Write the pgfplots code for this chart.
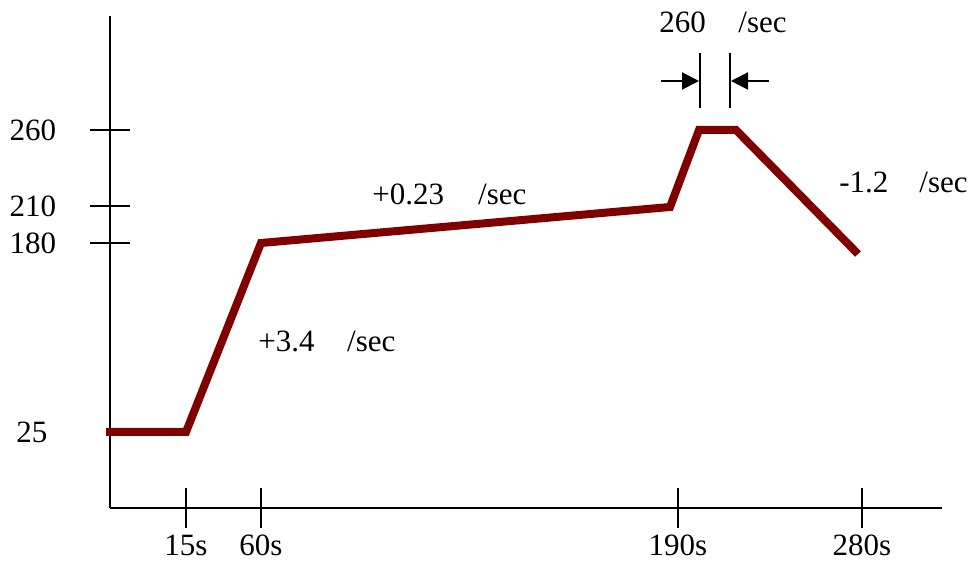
\documentclass[border=0pt]{standalone}
\usepackage{fontspec}
\setmainfont{Liberation Serif}
\usepackage{pgfplots}
\pgfplotsset{compat=1.18}
\usetikzlibrary{arrows.meta}
\definecolor{profile}{HTML}{800000}
\begin{document}
% coordinates are in picture pixels (y measured upward), axis is not to scale
\begin{tikzpicture}[every node/.style={font=\fontsize{15.5}{18}\selectfont}]
\begin{axis}[
  scale only axis,
  width=416pt, height=246pt,
  xmin=110, xmax=942,
  ymin=51, ymax=543,
  axis x line*=bottom,
  axis y line*=left,
  axis line style={-, line width=1pt, black},
  tick align=center,
  major tick length=20pt,
  tick style={line width=1pt, black},
  xtick={186,261,678,862},
  xticklabels={15s,60s,190s,280s},
  xticklabel style={yshift=0pt},
  ytick={429,353,316},
  yticklabels={},
  clip=false,
]
\path (axis cs:0,0) rectangle (axis cs:973,559);
\addplot[profile, line width=4pt, line join=miter, mark=none] coordinates {
 (106,127) (186,127) (261,316) (670,352) (699,429) (736,429) (858,305)
};
% y tick labels
\node at (axis cs:33,429) {260};
\node at (axis cs:33,353) {210};
\node at (axis cs:33,316) {180};
\node at (axis cs:32,127) {25};
% rate labels
\node[anchor=base west, inner sep=0pt] at (axis cs:372,354) {+0.23\hspace{1.1em}/sec};
\node[anchor=base west, inner sep=0pt] at (axis cs:258,207) {+3.4\hspace{1.05em}/sec};
\node[anchor=base west, inner sep=0pt] at (axis cs:839,366) {-1.2\hspace{1em}/sec};
\node[anchor=base west, inner sep=0pt] at (axis cs:659,526) {260\hspace{1.05em}/sec};
% peak dwell marker
\draw[line width=1pt] (axis cs:700,506) -- (axis cs:700,451);
\draw[line width=1pt] (axis cs:730,506) -- (axis cs:730,451);
\draw[line width=1pt, -{Triangle[length=8.5pt, width=8.5pt]}] (axis cs:661,478) -- (axis cs:699,478);
\draw[line width=1pt, -{Triangle[length=8.5pt, width=8.5pt]}] (axis cs:769,478) -- (axis cs:731,478);
\end{axis}
\end{tikzpicture}
\end{document}
